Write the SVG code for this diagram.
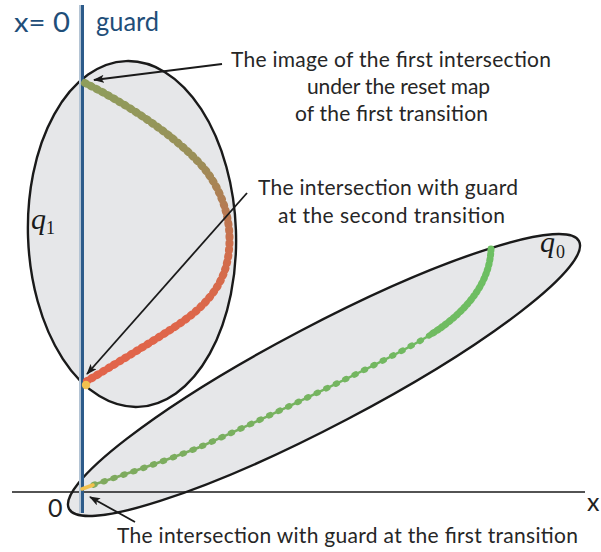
<svg xmlns="http://www.w3.org/2000/svg" width="601" height="552" viewBox="0 0 601 552">
<style>
  .region { fill: #e6e7e9; stroke: #1a1a1a; stroke-width: 2.4; }
  .note { font-family: Lato, "Liberation Sans", sans-serif; font-size: 21px; fill: #262626; }
  .blue { font-family: Lato, "Liberation Sans", sans-serif; font-size: 27px; fill: #1f4e79; }
  .qlab { font-family: "Liberation Serif", "DejaVu Serif", serif; font-style: italic; font-size: 30px; fill: #1a1a1a; }
  .qsub { font-family: "Liberation Serif", "DejaVu Serif", serif; font-size: 18px; fill: #1a1a1a; }
  .axislab { font-family: Lato, "Liberation Sans", sans-serif; font-size: 25px; fill: #222222; }
  .arrow { stroke: #1a1a1a; stroke-width: 1.8; fill: none; marker-end: url(#ah); }
</style>
<defs>
  <marker id="ah" markerWidth="11" markerHeight="8" refX="10" refY="4" orient="auto" markerUnits="userSpaceOnUse">
    <path d="M0,0 L11,4 L0,8 L2.5,4 z" fill="#1a1a1a"/>
  </marker>
  <linearGradient id="g1" gradientUnits="userSpaceOnUse" x1="0" y1="83" x2="0" y2="381">
    <stop offset="0" stop-color="#8e9d5c"/>
    <stop offset="0.25" stop-color="#9a8f58"/>
    <stop offset="0.42" stop-color="#b57a52"/>
    <stop offset="0.55" stop-color="#cf6e4c"/>
    <stop offset="0.8" stop-color="#de664a"/>
    <stop offset="1" stop-color="#e2644a"/>
  </linearGradient>
  <linearGradient id="g0" gradientUnits="userSpaceOnUse" x1="491" y1="249" x2="93" y2="485">
    <stop offset="0" stop-color="#6cbf62"/>
    <stop offset="1" stop-color="#7fa95e"/>
  </linearGradient>
</defs>

<g id="node-q1">
  <ellipse class="region" cx="132" cy="234" rx="104" ry="173" transform="rotate(-2 132 234)"/>
  <text class="qlab" x="31" y="229">q</text>
  <text class="qsub" x="46" y="234">1</text>
</g>

<g id="node-q0">
  <ellipse class="region" cx="324" cy="375" rx="288" ry="50" transform="rotate(-27.7 324 375)"/>
  <text class="qlab" x="540" y="252">q</text>
  <text class="qsub" x="556" y="258">0</text>
</g>

<g id="axis">
  <line x1="12" y1="492" x2="585" y2="492" stroke="#1a1a1a" stroke-width="1.6"/>
  <text class="axislab" x="48" y="517">0</text>
  <text class="axislab" x="587" y="511">x</text>
</g>

<g id="guard">
  <line x1="80" y1="5" x2="80" y2="513" stroke="#b4c4d4" stroke-width="2"/>
  <line x1="82.5" y1="5" x2="82.5" y2="513" stroke="#2d5b8a" stroke-width="3"/>
  <text class="blue" x="14" y="32" textLength="56" lengthAdjust="spacingAndGlyphs">x= 0</text>
  <text class="blue" x="96" y="31" textLength="63" lengthAdjust="spacingAndGlyphs">guard</text>
</g>

<g id="trajectory-q1">
  <path d="M85,83 C125,103 175,135 203,167 C222,190 232,220 229,250 C226,285 205,308 170,330 C145,346 112,366 87,381" fill="none" stroke="url(#g1)" stroke-width="3.5"/>
  <path d="M85,83 C125,103 175,135 203,167 C222,190 232,220 229,250 C226,285 205,308 170,330 C145,346 112,366 87,381" fill="none" stroke="url(#g1)" stroke-width="8" stroke-dasharray="1.2 5.3" stroke-linecap="round"/>
  <circle cx="86" cy="385" r="4.2" fill="#f2c14e"/>
</g>

<g id="trajectory-q0">
  <path d="M491,249 C490,280 470,310 430,335 C390,360 250,425 200,447 C160,463 120,476 93,485" fill="none" stroke="url(#g0)" stroke-width="2.6"/>
  <path d="M491,249 C490,280 470,310 430,335" fill="none" stroke="url(#g0)" stroke-width="7" stroke-dasharray="1.5 3.5" stroke-linecap="round"/>
  <path d="M430,335 C390,360 250,425 200,447 C160,463 120,476 93,485" fill="none" stroke="url(#g0)" stroke-width="6" stroke-dasharray="1.5 9" stroke-linecap="round"/>
  <path d="M93,485 L82,489" fill="none" stroke="#f2c14e" stroke-width="3.5" stroke-linecap="round"/>
</g>

<g id="connectors">
  <line class="arrow" x1="222" y1="64" x2="94" y2="80"/>
  <line class="arrow" x1="247" y1="193" x2="87" y2="374"/>
  <line class="arrow" x1="135" y1="522" x2="90" y2="497"/>
</g>

<g id="labels">
  <text class="note" x="231" y="66.5" textLength="320" lengthAdjust="spacing">The image of the first intersection</text>
  <text class="note" x="307" y="94" textLength="183" lengthAdjust="spacing">under the reset map</text>
  <text class="note" x="295" y="121" textLength="193" lengthAdjust="spacing">of the first transition</text>
  <text class="note" x="258" y="195" textLength="260" lengthAdjust="spacing">The intersection with guard</text>
  <text class="note" x="278" y="222.5" textLength="227" lengthAdjust="spacing">at the second transition</text>
  <text class="note" x="117" y="543" textLength="461" lengthAdjust="spacing">The intersection with guard at the first transition</text>
</g>
</svg>
